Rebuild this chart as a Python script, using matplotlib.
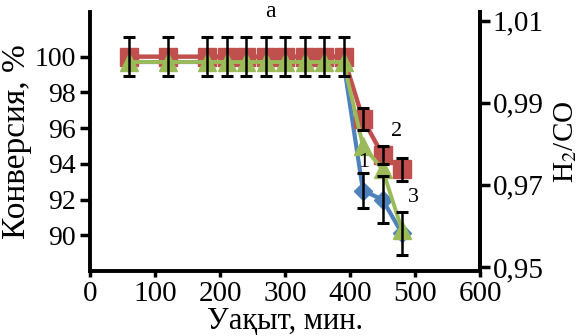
import matplotlib
matplotlib.use("Agg")
import matplotlib.pyplot as plt

plt.rcParams['font.family'] = ['Liberation Serif', 'DejaVu Serif']
plt.rcParams['mathtext.fontset'] = 'stix'

# Data
time = [60, 120, 180, 210, 240, 270, 300, 330, 360, 390, 420, 450, 480]
conv1 = [99.7, 99.7, 99.7, 99.7, 99.7, 99.7, 99.7, 99.7, 99.7, 99.7, 92.5, 92.0, 90.1]
conv2 = [100.0, 100.0, 100.0, 100.0, 100.0, 100.0, 100.0, 100.0, 100.0, 100.0, 96.5, 94.5, 93.7]
conv3 = [99.7, 99.7, 99.7, 99.7, 99.7, 99.7, 99.7, 99.7, 99.7, 99.7, 95.0, 93.7, 90.3]
err1 = [0, 0, 0, 0, 0, 0, 0, 0, 0, 0, 1.0, 1.3, 1.2]
err2 = [1.1, 1.1, 1.1, 1.1, 1.1, 1.1, 1.1, 1.1, 1.1, 1.1, 0.6, 0.5, 0.65]
xticks = [0, 100, 200, 300, 400, 500, 600]
yticks = [90, 92, 94, 96, 98, 100]
rticks = [0.95, 0.97, 0.99, 1.01]
rlabels = ['0,95', '0,97', '0,99', '1,01']

c_blue = '#4F81BD'
c_red = '#C0504D'
c_green = '#9BBB59'

fig = plt.figure(figsize=(5.86, 3.36), dpi=100)
ax = fig.add_axes([90/586, 1-271/336, (480-90)/586, (271-12)/336])

ax.plot(time, conv1, color=c_blue, lw=3, marker='D', ms=9, zorder=2)
ax.errorbar(time[10:], conv1[10:], yerr=err1[10:], fmt='none', ecolor='black',
            elinewidth=1.8, capsize=4, capthick=2.2, zorder=5)
ax.plot(time, conv2, color=c_red, lw=3.2, marker='s', ms=12.5, zorder=3)
ax.errorbar(time, conv2, yerr=err2, fmt='none', ecolor='black',
            elinewidth=1.8, capsize=4, capthick=2.2, zorder=5)
ax.plot(time, conv3, color=c_green, lw=2.8, marker='^', ms=12.5, zorder=4)

ax.set_xlim(0, 600)
ax.set_ylim(88, 102.5)
ax.set_xticks(xticks)
ax.set_yticks(yticks)
ax.tick_params(axis='x', labelsize=21, direction='out', length=4, width=2.5, pad=3)
ax.tick_params(axis='y', labelsize=20, direction='out', length=7, width=2.5, pad=3)

ax.spines['top'].set_visible(False)
for s in ['left', 'bottom', 'right']:
    ax.spines[s].set_linewidth(2.8)

ax2 = ax.twinx()
ax2.set_ylim(0.949, 1.0121)
ax2.set_yticks(rticks)
ax2.set_yticklabels(rlabels)
ax2.tick_params(axis='y', labelsize=21, direction='out', length=7, width=2.5, pad=2)
for s in ['top', 'left', 'bottom']:
    ax2.spines[s].set_visible(False)
ax2.spines['right'].set_linewidth(2.8)

ax.set_xlabel('Уақыт, мин.', fontsize=22, labelpad=0)
ax.set_ylabel('Конверсия, %', fontsize=24, labelpad=2)
ax2.set_ylabel('H$_2$/CO', fontsize=21, labelpad=6)

ax.text(421, 94.1, '1', fontsize=16, ha='center', va='center', zorder=6)
ax.text(471, 95.8, '2', fontsize=16, ha='center', va='center', zorder=6)
ax.text(497, 92.1, '3', fontsize=16, ha='center', va='center', zorder=6)

fig.text(270/586, 0.998, 'а', fontsize=17, ha='center', va='top')

fig.savefig('out.png', dpi=100)
